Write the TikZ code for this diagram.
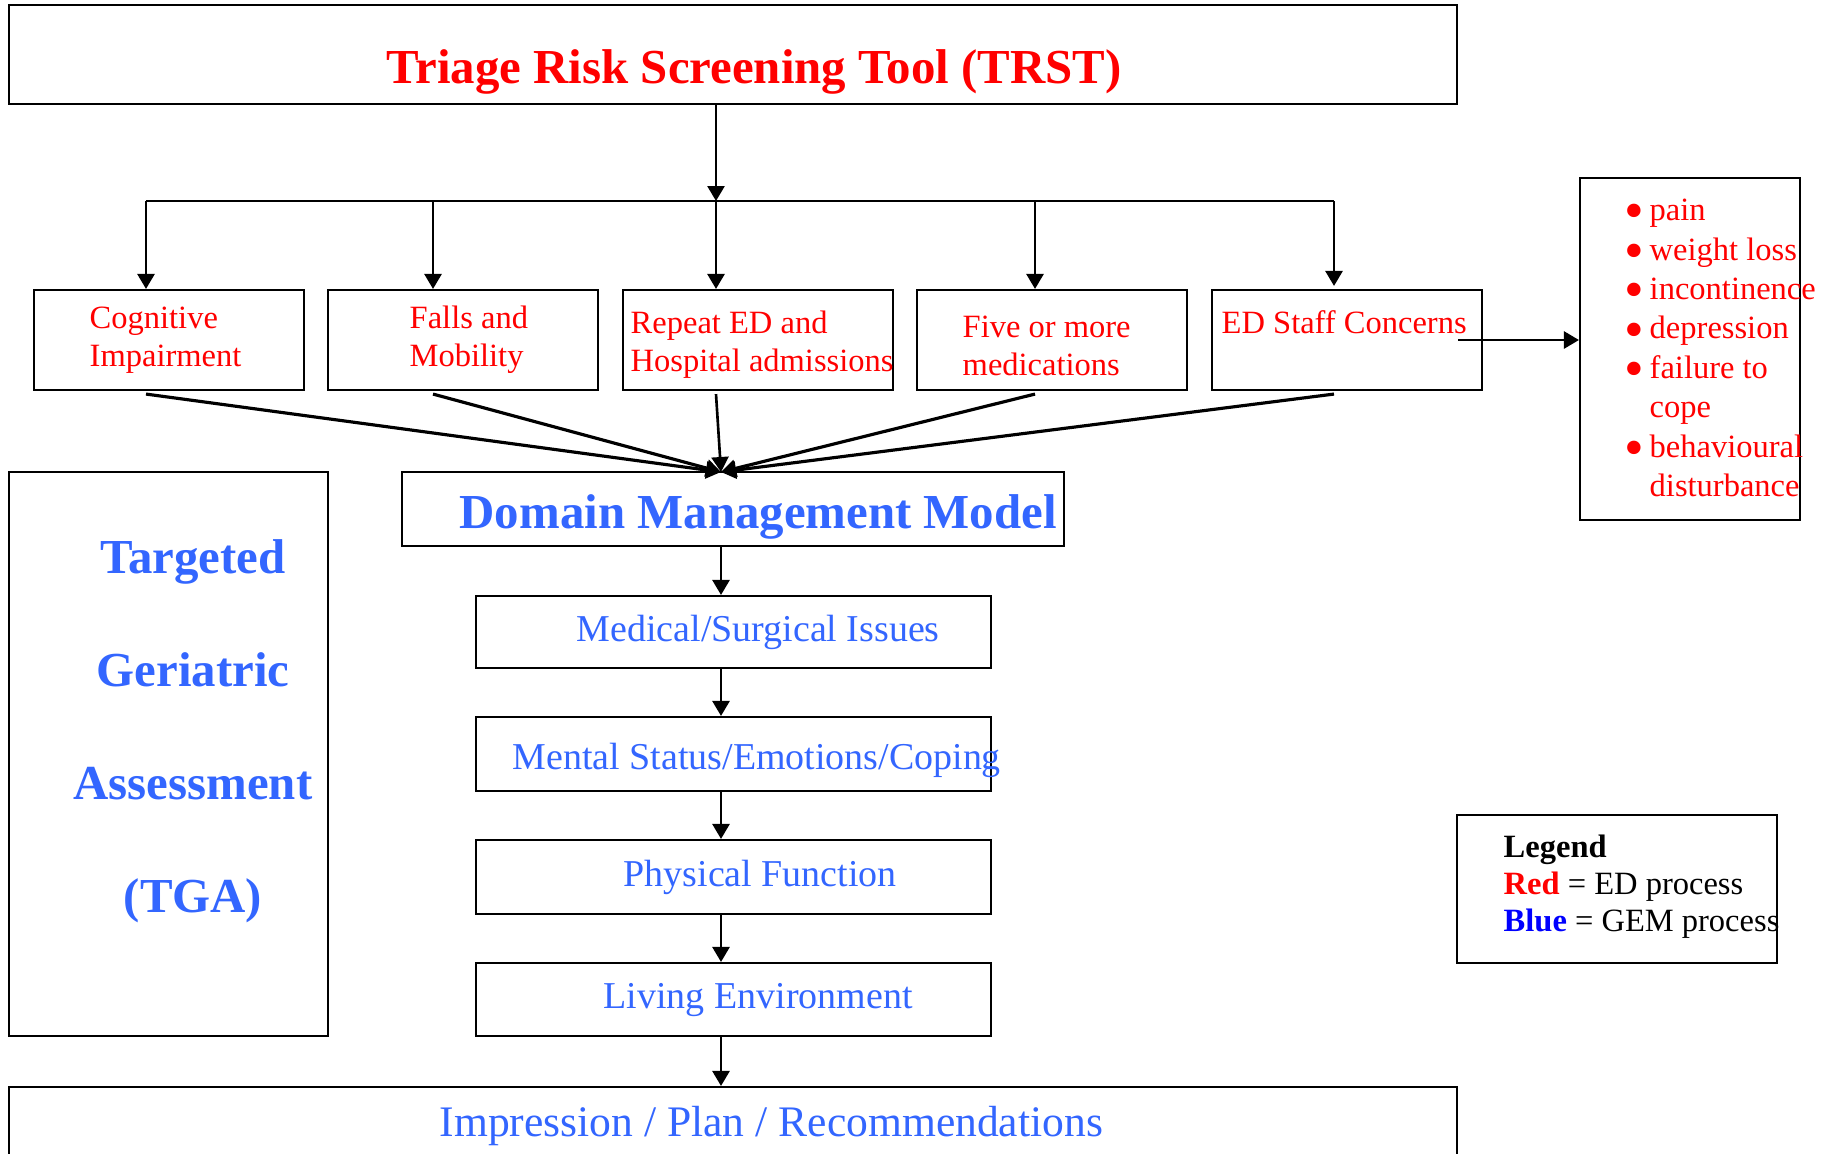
\documentclass[tikz,border=0pt]{standalone}
\usepackage{fontspec}
\setmainfont{Liberation Serif}
\usetikzlibrary{arrows.meta, calc, positioning}
\definecolor{edred}{RGB}{255,0,0}
\definecolor{gemblue}{RGB}{51,102,255}
\definecolor{legblue}{RGB}{0,0,255}
\newcommand{\lb}{\makebox[2.5mm][l]{\smash{\raisebox{-2.6pt}{\fontsize{16}{0}\selectfont\textbullet}}}}
\begin{document}
\begin{tikzpicture}[x=0.1mm, y=-0.1mm,
    box/.style={draw, line width=0.6pt, inner sep=0pt},
    arr/.style={line width=0.75pt, -{Triangle[length=1.5mm,width=1.7mm]}},
    txt/.style={inner sep=0pt, anchor=west, align=left},
    redtxt/.style={txt, text=edred, font=\fontsize{9.25}{10.8}\selectfont},
    bluetxt/.style={txt, text=gemblue, font=\fontsize{10.8}{12}\selectfont},
    bigblue/.style={text=gemblue, inner sep=0pt, font=\bfseries\fontsize{13.9}{16}\selectfont}]
\clip (0,0) rectangle (1832,1153);
\fill[white] (0,0) rectangle (1832,1153);

\node[box, minimum width=144.8mm, minimum height=9.9mm] (trst) at (733,54.5) {};
\node[txt, text=edred, font=\bfseries\fontsize{13.9}{16}\selectfont] (trstt) at (386,72) {Triage Risk Screening Tool (TRST)};

\node[box, minimum width=27mm, minimum height=10mm] (cog) at (169,340) {};
\node[box, minimum width=27mm, minimum height=10mm] (falls) at (463,340) {};
\node[box, minimum width=27mm, minimum height=10mm] (rep) at (758,340) {};
\node[box, minimum width=27mm, minimum height=10mm] (five) at (1052,340) {};
\node[box, minimum width=27mm, minimum height=10mm] (ed) at (1347,340) {};
\node[redtxt] (cogt) at (89,340) {Cognitive\\Impairment};
\node[redtxt] (fallst) at (409,340) {Falls and\\Mobility};
\node[redtxt] (rept) at (630,345) {Repeat ED and\\Hospital admissions};
\node[redtxt] (fivet) at (962,346) {Five or more\\medications};
\node[redtxt] (edt) at (1221,322) {ED Staff Concerns};

\node[box, minimum width=22mm, minimum height=34.2mm] (list) at (1690,349) {};
\node[redtxt, font=\fontsize{9.25}{11.2}\selectfont] (listt) at (1624,348) {\lb pain\\\lb weight loss\\\lb incontinence\\\lb depression\\\lb failure to\\\hspace*{2.5mm}cope\\\lb behavioural\\\hspace*{2.5mm}disturbance};

\node[box, minimum width=31.9mm, minimum height=56.4mm] (tga) at (168.5,754) {};
\node[bigblue, align=center, font=\bfseries\fontsize{13.9}{32.2}\selectfont] (tgat) at (193,731) {Targeted\\Geriatric\\Assessment\\(TGA)};

\node[box, minimum width=66.2mm, minimum height=7.4mm] (dmm) at (733,509) {};
\node[bigblue, anchor=west] (dmmt) at (459,517) {Domain Management Model};

\node[box, minimum width=51.5mm, minimum height=7.2mm] (med) at (733.5,632) {};
\node[box, minimum width=51.5mm, minimum height=7.4mm] (ment) at (733.5,754) {};
\node[box, minimum width=51.5mm, minimum height=7.4mm] (phys) at (733.5,877) {};
\node[box, minimum width=51.5mm, minimum height=7.3mm] (liv) at (733.5,999.5) {};
\node[bluetxt] (medt) at (576,632) {Medical/Surgical Issues};
\node[bluetxt] (mentt) at (512,760) {Mental Status/Emotions/Coping};
\node[bluetxt] (physt) at (623,877) {Physical Function};
\node[bluetxt] (livt) at (603,1000) {Living Environment};

\node[box, minimum width=144.8mm, minimum height=14mm] (imp) at (733,1157) {};
\node[txt, text=gemblue, font=\fontsize{12.4}{14}\selectfont] (impt) at (439,1126) {Impression / Plan / Recommendations};

\node[box, minimum width=32mm, minimum height=14.8mm] (leg) at (1617,889) {};
\node[txt, font=\fontsize{9.25}{10.5}\selectfont] (legt) at (1503,887) {\textbf{Legend}\\\textcolor{edred}{\textbf{Red}} = ED process\\\textcolor{legblue}{\textbf{Blue}} = GEM process};

\coordinate (b1) at (146,201);
\coordinate (b2) at (433,201);
\coordinate (b3) at (716,201);
\coordinate (b4) at (1035,201);
\coordinate (b5) at (1334,201);
\coordinate (hub) at (721,472);

\draw[arr] (trst.south -| b3) -- (b3);
\draw[line width=0.75pt] (b1) -- (b5);
\draw[arr] (b1) -- (b1 |- cog.north);
\draw[arr] (b2) -- (b2 |- falls.north);
\draw[arr] (b3) -- (b3 |- rep.north);
\draw[arr] (b4) -- (b4 |- five.north);
\draw[arr] (b5) -- ([yshift=0.3mm]b5 |- ed.north);

\draw[arr] ([xshift=-2.5mm]ed.east) -- (ed.east -| list.west);

\draw[arr, line width=0.9pt] ([yshift=-0.3mm]b1 |- cog.south) -- (hub);
\draw[arr, line width=0.9pt] ([yshift=-0.3mm]b2 |- falls.south) -- (hub);
\draw[arr] ([yshift=-0.3mm]b3 |- rep.south) -- (hub);
\draw[arr, line width=0.9pt] ([yshift=-0.3mm]b4 |- five.south) -- (hub);
\draw[arr, line width=0.9pt] ([yshift=-0.3mm]b5 |- ed.south) -- (hub);

\draw[arr] (dmm.south -| hub) -- (med.north -| hub);
\draw[arr] (med.south -| hub) -- (ment.north -| hub);
\draw[arr] (ment.south -| hub) -- (phys.north -| hub);
\draw[arr] (phys.south -| hub) -- (liv.north -| hub);
\draw[arr] (liv.south -| hub) -- (imp.north -| hub);
\end{tikzpicture}
\end{document}
